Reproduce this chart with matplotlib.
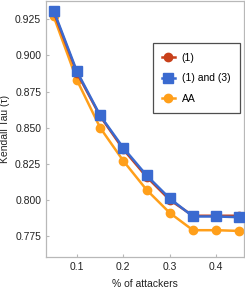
import matplotlib
matplotlib.use('Agg')
import matplotlib.pyplot as plt

# data
attackers = [0.05, 0.10, 0.15, 0.20, 0.25, 0.30, 0.35, 0.40, 0.45]
tau_1 = [0.930, 0.888, 0.858, 0.835, 0.816, 0.800, 0.789, 0.789, 0.789]
tau_1_3 = [0.931, 0.889, 0.8585, 0.836, 0.817, 0.801, 0.7885, 0.7885, 0.788]
tau_aa = [0.927, 0.883, 0.850, 0.827, 0.807, 0.791, 0.779, 0.779, 0.7785]
xticks = [0.1, 0.2, 0.3, 0.4]
yticks = [0.775, 0.800, 0.825, 0.850, 0.875, 0.900, 0.925]

plt.rcParams['font.family'] = ['Liberation Sans', 'DejaVu Sans']
fig = plt.figure(figsize=(2.45, 2.89), dpi=100)
ax = fig.add_axes([0.188, 0.111, 0.806, 0.887])

frame = '#b8b8b8'
ax.plot(attackers, tau_1, color='#c8401a', lw=1.8, marker='o', ms=6,
        label='(1)', zorder=3)
ax.plot(attackers, tau_1_3, color='#3a6ad0', lw=1.8, marker='s', ms=6.5,
        label='(1) and (3)', zorder=4)
ax.plot(attackers, tau_aa, color='#ff9f1a', lw=1.8, marker='o', ms=6,
        label='AA', zorder=2)

ax.set_xlim(0.0335, 0.459)
ax.set_ylim(0.7605, 0.938)
ax.set_xticks(xticks)
ax.set_xticklabels([f'{v:.1f}' for v in xticks])
ax.set_yticks(yticks)
ax.set_yticklabels([f'{v:.3f}' for v in yticks])
ax.tick_params(labelsize=7.5, colors=frame, labelcolor='#222222',
               length=2.5, width=0.8, direction='in')
for sp in ax.spines.values():
    sp.set_color(frame)
    sp.set_linewidth(0.9)

ax.set_xlabel('% of attackers', fontsize=7.5, color='#222222', labelpad=5)
ax.set_ylabel('Kendall Tau (τ)', fontsize=7.5, color='#222222', labelpad=4)

leg = ax.legend(loc='upper left', bbox_to_anchor=(0.54, 0.833),
                fontsize=7.5, frameon=True, fancybox=False,
                handlelength=1.2, handletextpad=0.7, borderpad=0.9,
                labelspacing=1.0, borderaxespad=0)
leg.get_frame().set_edgecolor('#222222')
leg.get_frame().set_linewidth(0.9)

fig.savefig('out.png', dpi=100)
